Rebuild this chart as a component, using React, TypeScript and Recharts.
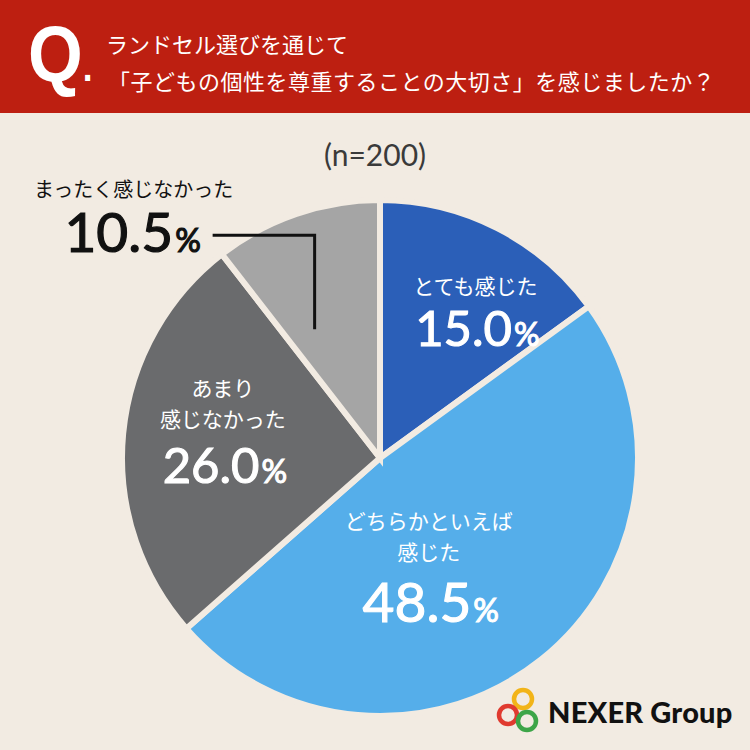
import React from "react";
import { PieChart, Pie, Cell } from "recharts";

const categories = ["とても感じた", "どちらかといえば感じた", "あまり感じなかった", "まったく感じなかった"];
const labelLines = [["とても感じた"], ["どちらかといえば", "感じた"], ["あまり", "感じなかった"], ["まったく感じなかった"]];
const values = [15.0, 48.5, 26.0, 10.5];
const colors = ["#2B5FB8", "#55AEEA", "#6A6B6D", "#A5A5A5"];
const title1 = "ランドセル選びを通じて";
const title2 = "「子どもの個性を尊重することの大切さ」を感じましたか？";
const sampleNote = "(n=200)";

const data = categories.map((name, i) => ({ name, value: values[i] }));

// label layout: radial factor, angle shift (deg) relative to slice middle, gap to number, number size
const labelLayout = [
  { r: 0.735, shift: -3.2, gap: 52, size: 49 },
  { r: 0.333, shift: -4.1, gap: 62, size: 55 },
  { r: 0.655, shift: -16.2, gap: 56, size: 49 },
];

const BG = "#F2EBE2";
const RAD = Math.PI / 180;
const JP = "'Noto Sans CJK JP', 'Noto Sans', sans-serif";
const NUM = "Lato, 'Noto Sans', sans-serif";

const renderLabel = (props: any) => {
  const { cx, cy, midAngle, outerRadius, index, value } = props;
  const lines = labelLines[index];
  if (index < 3) {
    const lay = labelLayout[index];
    const a = (midAngle + lay.shift) * RAD;
    const x = cx + outerRadius * lay.r * Math.cos(a);
    const y = cy - outerRadius * lay.r * Math.sin(a);
    const lh = 31;
    const n = lines.length;
    return (
      <g key={"lab" + index}>
        {lines.map((t, k) => (
          <text key={k} x={x} y={y + k * lh} textAnchor="middle" fill="#fff"
            fontFamily={JP} fontSize={21} fontWeight={400}>{t}</text>
        ))}
        <text x={x + 2} y={y + (n - 1) * lh + lay.gap} textAnchor="middle" fill="#fff"
          stroke="#fff" strokeWidth={1.1} fontFamily={NUM} fontWeight={400}>
          <tspan fontSize={lay.size}>{value.toFixed(1)}</tspan>
          <tspan fontSize={32} dx={2}>%</tspan>
        </text>
      </g>
    );
  }
  // outside label with elbow leader line
  const a = (midAngle + 8) * RAD;
  const ax = cx + outerRadius * 0.56 * Math.cos(a);
  const ay = cy - outerRadius * 0.56 * Math.sin(a);
  const ey = ay - 94;
  const ex = ax - 102;
  return (
    <g key={"lab" + index}>
      <polyline points={`${ax},${ay} ${ax},${ey} ${ex},${ey}`} fill="none" stroke="#111" strokeWidth={3} />
      <text x={ex - 79} y={ey - 38} textAnchor="middle" fill="#111" fontFamily={JP} fontSize={20} fontWeight={400}>
        {lines[0]}
      </text>
      <text x={ex - 80} y={ey + 17} textAnchor="middle" fill="#111" stroke="#111" strokeWidth={1.2}
        fontFamily={NUM} fontWeight={400}>
        <tspan fontSize={55}>{value.toFixed(1)}</tspan>
        <tspan fontSize={32} dx={2}>%</tspan>
      </text>
    </g>
  );
};

const Logo = () => (
  <div style={{ position: "absolute", left: 496, top: 686, display: "flex", alignItems: "center" }}>
    <svg width={50} height={50} viewBox="0 0 50 50">
      <circle cx={27} cy={13} r={9} fill="none" stroke="#F2B418" strokeWidth={4.5} />
      <circle cx={12} cy={29} r={9} fill="none" stroke="#E03A2F" strokeWidth={4.5} />
      <circle cx={31} cy={35} r={9} fill="none" stroke="#3DA548" strokeWidth={4.5} />
    </svg>
    <span style={{ fontFamily: "Lato, 'Noto Sans', sans-serif", fontWeight: 900, fontSize: 29, color: "#111", marginLeft: 2, letterSpacing: 0.2 }}>
      NEXER Group
    </span>
  </div>
);

export default function App() {
  return (
    <div style={{ position: "absolute", left: 0, top: 0, width: 750, height: 750, background: BG, overflow: "hidden" }}>
      <div style={{ position: "absolute", left: 0, top: 0, width: 750, height: 113, background: "#BD1F11" }}>
        <div style={{ position: "absolute", left: 28, top: 14, color: "#fff", fontFamily: "'Liberation Sans', 'Noto Sans', sans-serif", fontWeight: 700, fontSize: 80, lineHeight: "80px", transform: "scaleX(0.88)", transformOrigin: "left" }}>
          Q<span style={{ fontSize: 40 }}>.</span>
        </div>
        <div style={{ position: "absolute", left: 106, top: 25, color: "#fff", fontFamily: JP, fontSize: 22, lineHeight: "37px", fontWeight: 400, whiteSpace: "nowrap" }}>
          <div>{title1}</div>
          <div style={{ marginLeft: 2, letterSpacing: 0.5 }}>{title2}</div>
        </div>
      </div>
      <div style={{ position: "absolute", left: 0, top: 136, width: 750, textAlign: "center", color: "#3a3a3a", fontFamily: "Lato, 'Noto Sans', sans-serif", fontSize: 30, fontWeight: 400 }}>
        {sampleNote}
      </div>
      <div style={{ position: "absolute", left: 0, top: 0 }}>
        <PieChart width={750} height={750}>
          <Pie
            data={data}
            dataKey="value"
            nameKey="name"
            cx={375}
            cy={453}
            outerRadius={258}
            startAngle={90}
            endAngle={-270}
            stroke={BG}
            strokeWidth={6}
            isAnimationActive={false}
            label={renderLabel}
            labelLine={false}
          >
            {data.map((d, i) => (
              <Cell key={d.name} fill={colors[i]} />
            ))}
          </Pie>
        </PieChart>
      </div>
      <Logo />
    </div>
  );
}
